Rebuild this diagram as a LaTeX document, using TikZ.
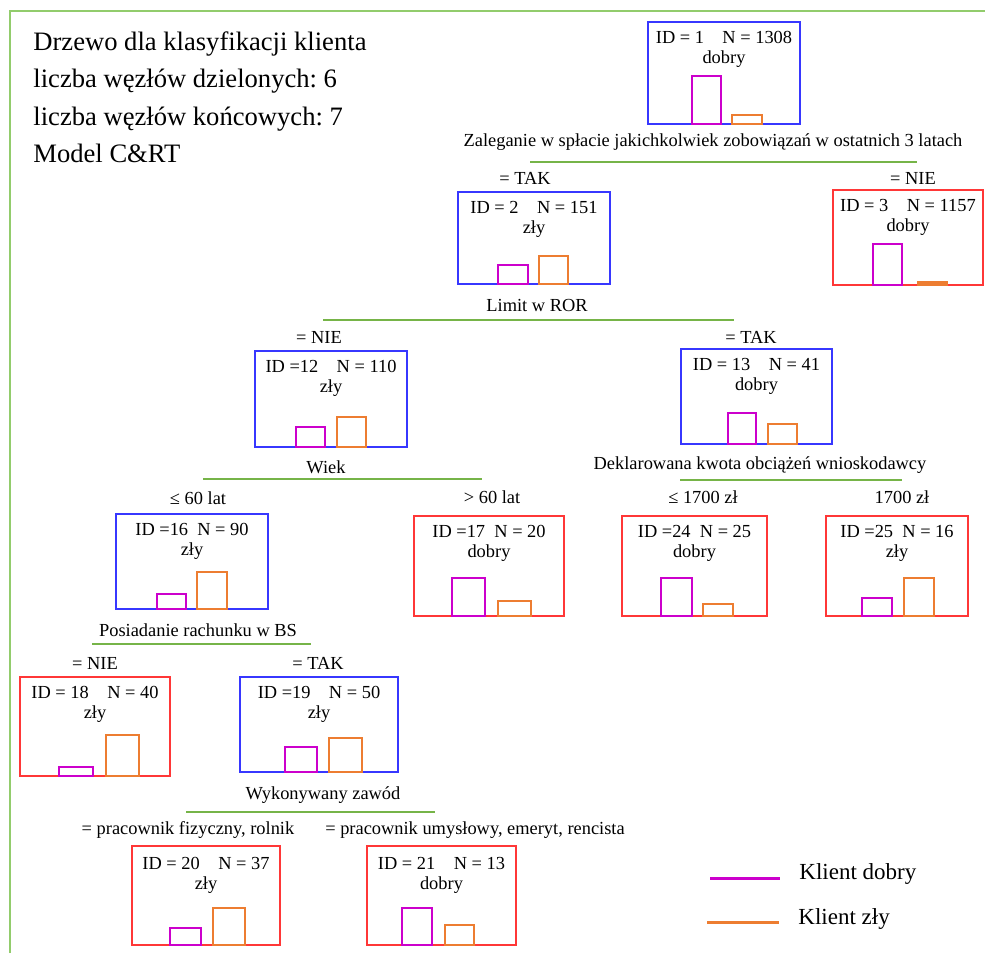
\documentclass[tikz,border=0pt]{standalone}
\usepackage{fontspec}
\setmainfont{Liberation Serif}
\frenchspacing
\usetikzlibrary{fit}
\definecolor{ramka}{RGB}{146,204,108}
\definecolor{zielony}{RGB}{118,180,72}
\definecolor{niebieski}{RGB}{55,55,255}
\definecolor{czerwony}{RGB}{255,55,55}
\definecolor{fiolet}{RGB}{204,0,204}
\definecolor{pomarancz}{RGB}{237,125,49}

\begin{document}
\begin{tikzpicture}[x=0.5pt,y=-0.5pt,
		wezel/.style={draw,line width=0.75pt,inner sep=0pt},
		opis/.style={anchor=base,inner sep=0pt,font=\fontsize{9.2}{11}\selectfont},
		etykieta/.style={inner sep=0pt,font=\fontsize{9.2}{11}\selectfont},
		tytul/.style={anchor=base west,inner sep=0pt,font=\fontsize{13.3}{16}\selectfont},
		legenda/.style={anchor=west,inner sep=0pt,font=\fontsize{11.5}{14}\selectfont},
		podzial/.style={zielony,line width=0.8pt},
		dobry/.style={fiolet,line width=1.3pt},
		zly/.style={pomarancz,line width=1.3pt}]
	\useasboundingbox (0,0) rectangle (985,953);
	\draw[ramka,line width=0.6pt] (10,953) -- (10,11) -- (985,11);

	\node[tytul] (t1) at (33,50) {Drzewo dla klasyfikacji klienta};
	\node[tytul] (t2) at (33,87) {liczba węzłów dzielonych: 6};
	\node[tytul] (t3) at (33,125) {liczba węzłów końcowych: 7};
	\node[tytul] (t4) at (33,162) {Model C\&RT};

	\node[wezel,draw=niebieski,fit={(648,22) (800,124)}] (w1) {};
	\node[opis] at ([yshift=-11pt]w1.north) {ID = 1\quad N = 1308};
	\node[opis] at ([yshift=-21pt]w1.north) {dobry};
	\draw[dobry] (692,124) rectangle (721,76);
	\draw[zly] (732,124) rectangle (762,115);
	\node[etykieta] (p1) at (713,142) {Zaleganie w spłacie jakichkolwiek zobowiązań w ostatnich 3 latach};
	\draw[podzial] (530,162) -- (917,162);

	\node[etykieta] (g2) at (525,178) {= TAK};
	\node[wezel,draw=niebieski,fit={(458,192) (610,284)}] (w2) {};
	\node[opis] at ([yshift=-11pt]w2.north) {ID = 2\quad N = 151};
	\node[opis] at ([yshift=-21pt]w2.north) {zły};
	\draw[dobry] (498,284) rectangle (528,265);
	\draw[zly] (539,284) rectangle (568,256);

	\node[etykieta] (g3) at (913,178) {= NIE};
	\node[wezel,draw=czerwony,fit={(833,190) (983,285)}] (w3) {};
	\node[opis] at ([yshift=-11pt]w3.north) {ID = 3\quad N = 1157};
	\node[opis] at ([yshift=-21pt]w3.north) {dobry};
	\draw[dobry] (873,285) rectangle (902,244);
	\draw[zly,fill=pomarancz] (918,285) rectangle (947,282);

	\node[etykieta] (p2) at (537,305) {Limit w ROR};
	\draw[podzial] (323,320) -- (734,320);

	\node[etykieta] (g12) at (319,337) {= NIE};
	\node[wezel,draw=niebieski,fit={(255,351) (407,447)}] (w12) {};
	\node[opis] at ([yshift=-11pt]w12.north) {ID =12\quad N = 110};
	\node[opis] at ([yshift=-21pt]w12.north) {zły};
	\draw[dobry] (296,447) rectangle (325,427);
	\draw[zly] (337,447) rectangle (366,417);

	\node[etykieta] (g13) at (751,337) {= TAK};
	\node[wezel,draw=niebieski,fit={(681,349) (832,444)}] (w13) {};
	\node[opis] at ([yshift=-11pt]w13.north) {ID = 13\quad N = 41};
	\node[opis] at ([yshift=-21pt]w13.north) {dobry};
	\draw[dobry] (728,444) rectangle (756,413);
	\draw[zly] (768,444) rectangle (797,424);

	\node[etykieta] (p12) at (326,467) {Wiek};
	\draw[podzial] (203,479) -- (482,479);
	\node[etykieta] (p13) at (760,465) {Deklarowana kwota obciążeń wnioskodawcy};
	\draw[podzial] (680,480) -- (902,480);

	\node[etykieta] (g16) at (198,498) {≤ 60 lat};
	\node[wezel,draw=niebieski,fit={(116,514) (268,609)}] (w16) {};
	\node[opis] at ([yshift=-11pt]w16.north) {ID =16\enspace N = 90};
	\node[opis] at ([yshift=-21pt]w16.north) {zły};
	\draw[dobry] (157,609) rectangle (186,594);
	\draw[zly] (197,609) rectangle (227,572);

	\node[etykieta] (g17) at (492,497) {> 60 lat};
	\node[wezel,draw=czerwony,fit={(414,516) (564,616)}] (w17) {};
	\node[opis] at ([yshift=-11pt]w17.north) {ID =17\enspace N = 20};
	\node[opis] at ([yshift=-21pt]w17.north) {dobry};
	\draw[dobry] (452,616) rectangle (485,578);
	\draw[zly] (498,616) rectangle (531,601);

	\node[etykieta] (g24) at (703,497) {≤ 1700 zł};
	\node[wezel,draw=czerwony,fit={(622,516) (767,616)}] (w24) {};
	\node[opis] at ([yshift=-11pt]w24.north) {ID =24\enspace N = 25};
	\node[opis] at ([yshift=-21pt]w24.north) {dobry};
	\draw[dobry] (661,616) rectangle (692,578);
	\draw[zly] (703,616) rectangle (733,604);

	\node[etykieta] (g25) at (902,497) {1700 zł};
	\node[wezel,draw=czerwony,fit={(826,516) (968,616)}] (w25) {};
	\node[opis] at ([yshift=-11pt]w25.north) {ID =25\enspace N = 16};
	\node[opis] at ([yshift=-21pt]w25.north) {zły};
	\draw[dobry] (862,616) rectangle (892,598);
	\draw[zly] (904,616) rectangle (934,578);

	\node[etykieta] (p16) at (198,630) {Posiadanie rachunku w BS};
	\draw[podzial] (92,644) -- (311,644);

	\node[etykieta] (g18) at (95,663) {= NIE};
	\node[wezel,draw=czerwony,fit={(20,677) (170,776)}] (w18) {};
	\node[opis] at ([yshift=-11pt]w18.north) {ID = 18\quad N = 40};
	\node[opis] at ([yshift=-21pt]w18.north) {zły};
	\draw[dobry] (59,776) rectangle (93,767);
	\draw[zly] (106,776) rectangle (139,735);

	\node[etykieta] (g19) at (318,663) {= TAK};
	\node[wezel,draw=niebieski,fit={(240,677) (398,772)}] (w19) {};
	\node[opis] at ([yshift=-11pt]w19.north) {ID =19\quad N = 50};
	\node[opis] at ([yshift=-21pt]w19.north) {zły};
	\draw[dobry] (285,772) rectangle (317,747);
	\draw[zly] (329,772) rectangle (362,738);

	\node[etykieta] (p19) at (323,795) {Wykonywany zawód};
	\draw[podzial] (186,812) -- (435,812);

	\node[etykieta] (g20) at (188,830) {= pracownik fizyczny, rolnik};
	\node[wezel,draw=czerwony,fit={(132,846) (280,945)}] (w20) {};
	\node[opis] at ([yshift=-12pt]w20.north) {ID = 20\quad N = 37};
	\node[opis] at ([yshift=-22pt]w20.north) {zły};
	\draw[dobry] (170,945) rectangle (201,928);
	\draw[zly] (213,945) rectangle (245,908);

	\node[etykieta] (g21) at (475,830) {= pracownik umysłowy, emeryt, rencista};
	\node[wezel,draw=czerwony,fit={(367,846) (516,945)}] (w21) {};
	\node[opis] at ([yshift=-12pt]w21.north) {ID = 21\quad N = 13};
	\node[opis] at ([yshift=-22pt]w21.north) {dobry};
	\draw[dobry] (402,945) rectangle (432,908);
	\draw[zly] (445,945) rectangle (474,925);

	\node[legenda] (kd) at (799,874) {Klient dobry};
	\node[legenda] (kz) at (798,919) {Klient zły};
	\draw[dobry,line width=1.5pt] ([xshift=-44.5pt,yshift=-2pt]kd.west) -- ([xshift=-9.5pt,yshift=-2pt]kd.west);
	\draw[zly,line width=1.5pt] ([xshift=-45.5pt,yshift=-1.5pt]kz.west) -- ([xshift=-9.5pt,yshift=-1.5pt]kz.west);
\end{tikzpicture}
\end{document}
